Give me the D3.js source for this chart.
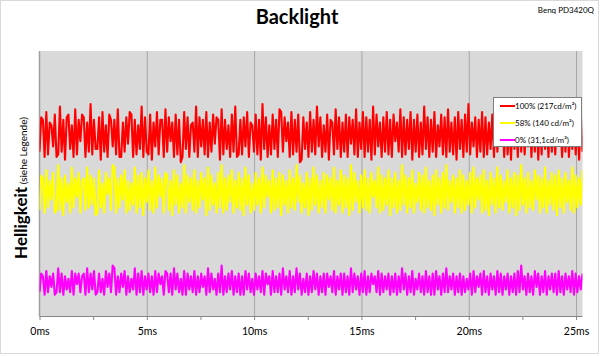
<!DOCTYPE html>
<html><head><meta charset="utf-8">
<script src="https://cdn.jsdelivr.net/npm/d3@7"></script>
<style>body{margin:0;background:#fff}svg{display:block}text{font-family:Lato,"Open Sans",sans-serif}</style>
</head><body><svg id="c" width="600" height="356"></svg>
<script>
const title = "Backlight";
const subtitle = "Benq PD3420Q";
const yLabelMain = "Helligkeit";
const yLabelSub = " (siehe Legende)";
const xTickValues = [0, 2.5, 5, 7.5, 10, 12.5, 15, 17.5, 20, 22.5, 25];
const xTickLabels = ["0ms", "", "5ms", "", "10ms", "", "15ms", "", "20ms", "", "25ms"];
const xMax = 25.3;
const seriesNames = ["100% (217cd/m²)", "58% (140 cd/m²)", "0% (31,1cd/m²)"];
const seriesColors = ["#ff0000", "#ffff00", "#ff00ff"];

const red = [
62,75,74,60,77,61,73,72,64,76,60,61,79,62,74,59,75,76,63,72,
60,78,61,74,66,76,75,60,73,62,80,61,74,63,63,75,59,77,62,72,
60,76,74,64,74,61,78,60,60,73,62,75,65,77,76,60,74,61,72,63,
79,60,75,62,61,76,59,73,64,77,61,74,74,60,78,62,75,66,73,60,
76,61,74,58,60,77,63,75,60,72,73,62,79,60,75,64,74,61,77,60,
73,62,76,65,75,74,59,78,61,74,63,72,60,76,62,79,60,61,74,61,
75,64,77,60,73,72,62,76,61,74,59,80,63,75,60,72,61,76,63,74,
60,78,77,62,75,66,73,60,77,61,74,62,76,58,59,75,63,73,60,77,
62,74,61,79,64,75,60,72,62,76,59,74,73,61,78,63,75,60,73,62,
76,60,75,65,74,61,78,60,73,63,77,60,75,62,74,59,79,61,76,64,
73,60,75,62,77,61,74,60,76,66,73,62,78,60,75,61,74,63,77,59,
74,62,76,60,73,61,79,63,75,60,74,62,77,60,72,64,76,61,75,60,
78,62,73,61,75,59,77,63,74,60,76,62,80,61,73,64,75,60,74,62,
77,60,75,61,73,63,76,60,79,62,74,65,75,60,77,61,73,59,76,63,
74,60,78,62,75,61,73,64,77,60,74,62,76,59,75,61,79,63,74,60,
76,62,73,61,77,65,75,60,74,62,78,60,73,63,76,61,75,59,77,62];

const yellow = [
40,53,52,39,55,41,51,44,54,39,40,57,40,52,38,53,43,50,39,56,
41,52,45,54,39,51,52,40,56,41,53,42,52,38,39,55,41,50,39,54,
46,52,40,57,56,39,52,41,53,44,55,39,51,40,50,42,56,39,53,41,
54,38,52,43,55,40,51,39,56,41,53,45,52,39,54,53,40,51,38,55,
42,53,39,50,41,57,39,53,43,52,40,55,39,51,41,54,44,52,38,56,
40,53,42,50,39,54,41,57,39,52,40,53,43,55,39,51,41,54,40,52,
38,56,42,53,39,50,40,54,42,52,39,56,41,53,45,51,39,55,40,52,
41,54,38,53,42,51,39,55,41,52,40,57,43,53,39,50,41,54,38,52,
40,56,42,53,39,51,41,54,39,53,44,52,40,56,39,51,42,55,39,53,
41,52,38,57,40,54,43,51,39,53,41,55,40,52,39,54,45,51,41,56,
39,53,40,52,42,55,38,52,41,54,39,51,40,57,42,53,39,52,41,55,
39,50,43,54,40,53,39,56,41,51,40,53,38,55,42,52,39,54,41,57,
40,51,43,53,39,52,41,55,39,53,40,51,42,54,39,56,41,52,44,53,
39,55,40,51,38,54,42,52,39,56,41,53,40,51,43,55,39,52,41,54,
38,53,40,57,42,52,39,54,41,51,40,55,44,53,39,52,41,56,39,51,
42,54,40,53,38,55,41,52,39,54,43,51,40,56,39,53,41,52,42,55];

const magenta = [
9,16,15,8,17,9,15,11,16,8,9,18,9,16,8,15,10,14,9,17,
8,16,12,16,9,15,16,8,18,9,16,10,17,8,9,16,9,14,8,17,
11,16,9,19,18,8,15,9,16,11,17,8,15,9,14,10,18,8,16,9,
17,8,15,10,16,9,15,8,17,9,16,12,15,8,17,16,9,16,8,18,
10,16,9,14,8,17,8,16,10,15,9,17,8,15,9,16,11,15,8,18,
9,16,10,14,8,16,9,19,8,15,9,16,10,17,8,15,9,16,8,15,
8,17,10,16,9,14,8,16,10,15,9,17,8,16,12,15,8,17,9,15,
9,16,8,18,10,15,9,17,8,15,9,18,10,16,8,14,9,16,8,15,
9,17,10,16,8,15,9,16,8,16,11,15,9,17,8,15,10,16,8,16,
9,15,8,18,9,16,10,15,8,16,9,17,8,15,9,16,12,15,9,17,
8,16,9,15,10,16,8,15,9,16,8,15,9,18,10,16,8,15,9,17,
8,14,10,16,9,15,8,17,9,15,8,16,8,17,10,15,8,16,9,18,
9,15,10,16,8,15,9,16,8,15,9,14,10,16,8,17,9,15,11,16,
8,17,9,15,8,16,10,15,8,17,9,16,8,15,10,16,8,15,9,16,
8,17,9,19,10,15,8,16,9,15,8,17,11,16,8,15,9,17,8,15,
10,16,9,16,8,17,9,15,8,16,10,15,9,17,8,16,9,15,10,16];

const series = [red, yellow, magenta];

const svg = d3.select("#c");
const L = 39.5, R = 582.5, T = 51, B = 316;
const x = d3.scaleLinear().domain([0, xMax]).range([L, R]);
const y = d3.scaleLinear().domain([0, 100]).range([B, T]);

// outer frame
svg.append("rect").attr("x", 0.5).attr("y", 0.5).attr("width", 598).attr("height", 353)
  .attr("fill", "#fff").attr("stroke", "#d9d9d9");

// plot background
svg.append("rect").attr("x", L).attr("y", T).attr("width", R - L).attr("height", B - T).attr("fill", "#d9d9d9");

// gridlines
const grid = svg.append("g").attr("transform", `translate(0,${B})`)
  .call(d3.axisBottom(x).tickValues(xTickValues.filter(v => v > 0 && v % 5 === 0)).tickSize(-(B - T)).tickFormat(""));
grid.select(".domain").remove();
grid.selectAll("line").attr("stroke", "#a6a6a6");

// x axis
const xa = svg.append("g").attr("transform", `translate(0,${B})`)
  .call(d3.axisBottom(x).tickValues(xTickValues).tickSize(4).tickPadding(8)
    .tickFormat((d, i) => xTickLabels[i]));
xa.select(".domain").attr("stroke", "#868686").attr("d", `M${L},0.5H${R}`);
xa.selectAll("line").attr("stroke", "#868686");
xa.selectAll("text").attr("font-size", 10.5).attr("fill", "#000").attr("font-family", "Lato");

// y axis line
svg.append("line").attr("x1", L).attr("x2", L).attr("y1", T).attr("y2", B).attr("stroke", "#a0a0a0").attr("stroke-width", 1.5);

// series
svg.append("clipPath").attr("id", "pc").append("rect")
  .attr("x", L).attr("y", T).attr("width", R - L).attr("height", B - T);
series.forEach((s, k) => {
  const dt = xMax / (s.length - 1);
  const line = d3.line().x((d, i) => x(i * dt)).y(d => y(d));
  svg.append("path").datum(s).attr("d", line).attr("fill", "none")
    .attr("stroke", seriesColors[k]).attr("stroke-width", 2.1).attr("stroke-linejoin", "round")
    .attr("clip-path", "url(#pc)");
});

// legend
const lg = svg.append("g").attr("transform", "translate(493,97)");
lg.append("rect").attr("x", 0.5).attr("y", 0.5).attr("width", 88).attr("height", 49)
  .attr("fill", "#fff").attr("stroke", "#808080");
seriesNames.forEach((n, k) => {
  const yy = 9 + k * 17;
  lg.append("line").attr("x1", 7).attr("x2", 22).attr("y1", yy).attr("y2", yy)
    .attr("stroke", seriesColors[k]).attr("stroke-width", 2);
  lg.append("text").attr("x", 22).attr("y", yy + 2.7).attr("font-size", 8).text(n);
});

// title
svg.append("text").attr("x", 297).attr("y", 24).attr("text-anchor", "middle")
  .attr("font-size", 20).attr("font-weight", "bold").text(title);
svg.append("text").attr("x", 594).attr("y", 13).attr("text-anchor", "end")
  .attr("font-size", 8).text(subtitle);

// y label
const yl = svg.append("text").attr("transform", "translate(27,188) rotate(-90)").attr("text-anchor", "middle");
yl.append("tspan").attr("font-size", 17).attr("font-weight", "bold").text(yLabelMain);
yl.append("tspan").attr("font-size", 10).text(yLabelSub);
</script></body></html>
